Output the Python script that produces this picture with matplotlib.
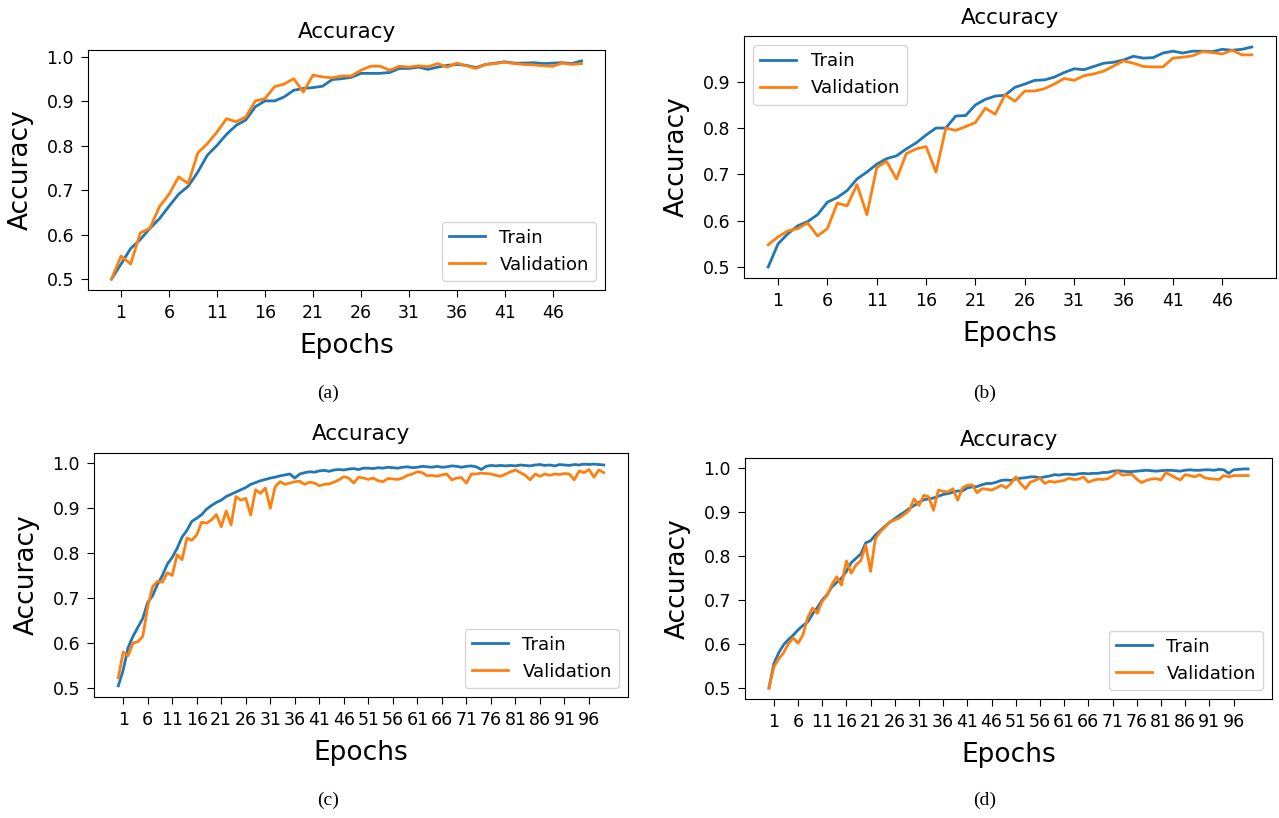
import numpy as np
import matplotlib
matplotlib.use("Agg")
import matplotlib.pyplot as plt

# ---- data (accuracy per epoch) ----
train_a = [0.500, 0.534, 0.569, 0.589, 0.614, 0.636, 0.664, 0.691, 0.709, 0.741,
           0.779, 0.801, 0.826, 0.846, 0.858, 0.888, 0.901, 0.901, 0.910, 0.925,
           0.929, 0.931, 0.934, 0.949, 0.951, 0.954, 0.963, 0.963, 0.963, 0.965,
           0.974, 0.974, 0.977, 0.972, 0.977, 0.981, 0.983, 0.981, 0.976, 0.983,
           0.986, 0.989, 0.986, 0.986, 0.987, 0.985, 0.986, 0.987, 0.985, 0.991]
val_a = [0.500, 0.552, 0.534, 0.604, 0.614, 0.663, 0.691, 0.730, 0.715, 0.784,
         0.805, 0.831, 0.861, 0.854, 0.865, 0.901, 0.906, 0.933, 0.939, 0.951,
         0.921, 0.959, 0.955, 0.953, 0.957, 0.957, 0.970, 0.979, 0.979, 0.970,
         0.979, 0.977, 0.980, 0.978, 0.985, 0.977, 0.986, 0.980, 0.974, 0.983,
         0.985, 0.988, 0.985, 0.983, 0.982, 0.980, 0.979, 0.986, 0.983, 0.985]

train_b = [0.500, 0.550, 0.572, 0.589, 0.598, 0.613, 0.640, 0.650, 0.665, 0.690,
           0.705, 0.722, 0.734, 0.740, 0.755, 0.768, 0.785, 0.800, 0.800, 0.826,
           0.827, 0.850, 0.862, 0.869, 0.871, 0.888, 0.895, 0.903, 0.904, 0.910,
           0.920, 0.928, 0.926, 0.933, 0.940, 0.942, 0.947, 0.955, 0.951, 0.952,
           0.962, 0.966, 0.962, 0.966, 0.966, 0.965, 0.970, 0.968, 0.970, 0.975]
val_b = [0.548, 0.565, 0.578, 0.583, 0.595, 0.567, 0.583, 0.638, 0.632, 0.678,
         0.613, 0.715, 0.728, 0.690, 0.745, 0.755, 0.760, 0.705, 0.800, 0.795,
         0.803, 0.812, 0.843, 0.830, 0.872, 0.858, 0.880, 0.880, 0.885, 0.895,
         0.907, 0.903, 0.913, 0.917, 0.923, 0.934, 0.945, 0.940, 0.933, 0.932,
         0.932, 0.951, 0.953, 0.956, 0.965, 0.963, 0.960, 0.968, 0.958, 0.958]

train_c = [0.505, 0.540, 0.590, 0.615, 0.635, 0.655, 0.690, 0.705, 0.730, 0.750,
           0.775, 0.790, 0.810, 0.835, 0.850, 0.870, 0.877, 0.885, 0.897, 0.905,
           0.912, 0.917, 0.925, 0.930, 0.935, 0.940, 0.945, 0.952, 0.956, 0.960,
           0.963, 0.966, 0.968, 0.971, 0.973, 0.975, 0.966, 0.975, 0.978, 0.980,
           0.979, 0.982, 0.983, 0.981, 0.984, 0.985, 0.984, 0.986, 0.987, 0.985,
           0.988, 0.988, 0.987, 0.989, 0.988, 0.990, 0.989, 0.988, 0.990, 0.991,
           0.989, 0.990, 0.992, 0.991, 0.990, 0.992, 0.990, 0.991, 0.993, 0.992,
           0.990, 0.992, 0.993, 0.991, 0.985, 0.992, 0.994, 0.993, 0.994, 0.993,
           0.994, 0.993, 0.995, 0.994, 0.993, 0.995, 0.996, 0.994, 0.995, 0.993,
           0.996, 0.995, 0.994, 0.996, 0.995, 0.997, 0.996, 0.997, 0.996, 0.995]
val_c = [0.523, 0.580, 0.572, 0.600, 0.603, 0.615, 0.680, 0.725, 0.737, 0.735,
         0.756, 0.750, 0.796, 0.785, 0.833, 0.828, 0.840, 0.868, 0.866, 0.873,
         0.885, 0.858, 0.893, 0.862, 0.925, 0.917, 0.921, 0.884, 0.940, 0.932,
         0.944, 0.899, 0.947, 0.958, 0.952, 0.955, 0.958, 0.959, 0.952, 0.957,
         0.955, 0.949, 0.952, 0.953, 0.957, 0.962, 0.969, 0.966, 0.955, 0.968,
         0.966, 0.963, 0.966, 0.960, 0.958, 0.965, 0.964, 0.963, 0.966, 0.972,
         0.975, 0.980, 0.978, 0.971, 0.972, 0.970, 0.973, 0.975, 0.962, 0.966,
         0.967, 0.955, 0.975, 0.975, 0.977, 0.976, 0.975, 0.972, 0.970, 0.975,
         0.980, 0.984, 0.978, 0.972, 0.962, 0.975, 0.970, 0.975, 0.972, 0.975,
         0.974, 0.976, 0.975, 0.962, 0.982, 0.978, 0.985, 0.968, 0.984, 0.978]

train_d = [0.500, 0.555, 0.580, 0.598, 0.610, 0.620, 0.632, 0.642, 0.650, 0.668,
           0.683, 0.700, 0.712, 0.730, 0.740, 0.750, 0.765, 0.785, 0.795, 0.805,
           0.830, 0.835, 0.848, 0.858, 0.868, 0.877, 0.885, 0.893, 0.900, 0.908,
           0.915, 0.922, 0.928, 0.930, 0.932, 0.936, 0.940, 0.942, 0.945, 0.948,
           0.948, 0.955, 0.957, 0.958, 0.962, 0.965, 0.965, 0.968, 0.972, 0.973,
           0.972, 0.975, 0.977, 0.978, 0.980, 0.980, 0.978, 0.980, 0.982, 0.985,
           0.984, 0.986, 0.986, 0.985, 0.987, 0.988, 0.987, 0.988, 0.988, 0.990,
           0.990, 0.993, 0.994, 0.993, 0.992, 0.992, 0.993, 0.994, 0.995, 0.994,
           0.993, 0.994, 0.995, 0.995, 0.994, 0.993, 0.995, 0.996, 0.995, 0.995,
           0.996, 0.996, 0.995, 0.997, 0.996, 0.988, 0.996, 0.997, 0.998, 0.998]
val_d = [0.500, 0.548, 0.566, 0.580, 0.600, 0.614, 0.602, 0.620, 0.660, 0.682,
         0.670, 0.697, 0.710, 0.735, 0.753, 0.734, 0.789, 0.761, 0.780, 0.790,
         0.825, 0.765, 0.840, 0.855, 0.866, 0.878, 0.882, 0.887, 0.895, 0.904,
         0.930, 0.915, 0.938, 0.935, 0.904, 0.950, 0.947, 0.946, 0.953, 0.927,
         0.955, 0.961, 0.962, 0.944, 0.953, 0.952, 0.950, 0.955, 0.961, 0.955,
         0.965, 0.980, 0.965, 0.953, 0.968, 0.972, 0.977, 0.965, 0.970, 0.968,
         0.970, 0.972, 0.977, 0.974, 0.975, 0.980, 0.968, 0.972, 0.975, 0.974,
         0.976, 0.982, 0.992, 0.984, 0.985, 0.986, 0.975, 0.967, 0.972, 0.975,
         0.976, 0.973, 0.990, 0.984, 0.978, 0.973, 0.985, 0.983, 0.980, 0.985,
         0.978, 0.976, 0.975, 0.974, 0.983, 0.980, 0.983, 0.983, 0.983, 0.983]

panels = [
    (train_a, val_a, "(a)", "lower right", (88, 50, 605, 290)),
    (train_b, val_b, "(b)", "upper left", (744, 36, 1276, 278)),
    (train_c, val_c, "(c)", "lower right", (94, 453, 628, 697)),
    (train_d, val_d, "(d)", "lower right", (745, 458, 1272, 699)),
]
caption_pos = [(328, 393), (985, 393), (328, 800), (985, 800)]

W, H = 1279, 818
fig = plt.figure(figsize=(W / 100, H / 100), dpi=100)

for (train, val, cap, loc, box), (cx, cy) in zip(panels, caption_pos):
    l, t, r, b = box
    ax = fig.add_axes([l / W, 1 - b / H, (r - l) / W, (b - t) / H])
    n = len(train)
    ax.plot(np.arange(n), train, color="tab:blue", lw=2.0, label="Train")
    ax.plot(np.arange(n), val, color="tab:orange", lw=2.0, label="Validation")
    ax.set_xticks(range(1, n, 5))
    ax.tick_params(labelsize=12.5, length=5, pad=5)
    ax.set_title("Accuracy", fontsize=15.5, pad=9)
    ax.set_xlabel("Epochs", fontsize=19, labelpad=8)
    ax.set_ylabel("Accuracy", fontsize=19, labelpad=9)
    ax.legend(loc=loc, fontsize=13)
    fig.text(cx / W, 1 - cy / H, cap, ha="center", va="center",
             family="Liberation Serif", fontsize=14)

fig.savefig("out.png", dpi=100)
